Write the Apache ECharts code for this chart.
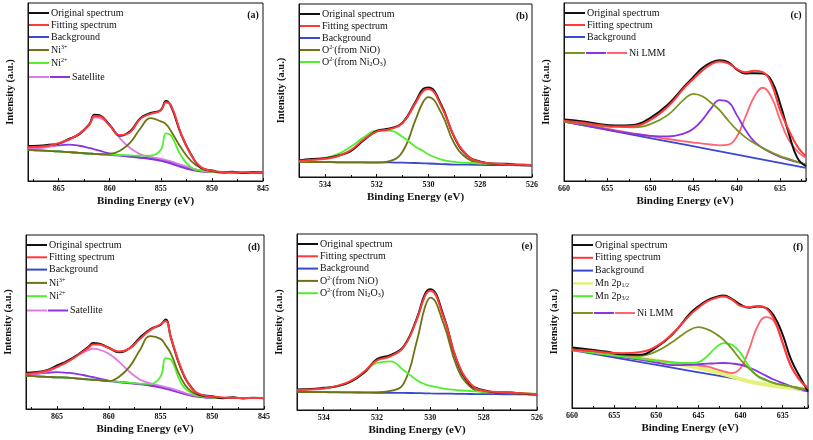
<!DOCTYPE html>
<html>
<head>
<meta charset="utf-8">
<script src="https://cdn.jsdelivr.net/npm/echarts@6/dist/echarts.min.js"></script>
<style>
  html, body { margin: 0; padding: 0; background: #fff; }
  #chart { width: 813px; height: 440px; }
</style>
</head>
<body>
<div id="chart"></div>
<script>
// ---- panel (a) / (d): Ni 2p ----
const aE = [868, 867, 866, 865, 864, 863, 862, 861.5, 861, 860, 859, 858, 857, 856, 855, 854.5, 854, 853, 852, 851, 850, 849, 848, 847, 846, 845]
const aOrig = [19.6, 19.8, 20.3, 21.0, 23.6, 26.2, 31.8, 37.2, 36.9, 31.4, 25.4, 27.9, 35.3, 38.2, 39.9, 44.9, 42.0, 26.0, 14.5, 7.2, 5.9, 4.9, 5.2, 4.5, 4.9, 4.6]
const aFit = [18.9, 19.2, 19.8, 21.3, 23.2, 26.5, 31.5, 36.5, 36.4, 31.0, 25.8, 27.4, 34.9, 37.7, 39.6, 44.3, 42.5, 26.4, 14.2, 7.5, 5.7, 5.1, 4.9, 4.8, 4.7, 4.7]
const aBg = [17.5, 17.2, 16.9, 16.6, 16.2, 15.8, 15.4, 15.2, 15.0, 14.6, 14.2, 13.8, 13.3, 12.7, 11.8, 11.2, 10.4, 8.7, 7.0, 5.8, 5.2, 4.9, 4.8, 4.7, 4.7, 4.7]
const aNi3 = [17.5, 17.2, 16.9, 16.6, 16.2, 15.8, 15.4, 15.2, 15.1, 15.2, 17.0, 21.5, 29.5, 35.3, 33.5, 32.0, 28.0, 18.5, 11.0, 7.0, 5.4, 4.9, 4.8, 4.7, 4.7, 4.7]
const aNi2 = [17.5, 17.2, 16.9, 16.6, 16.2, 15.8, 15.4, 15.2, 15.0, 14.8, 14.6, 14.4, 14.2, 14.3, 17.5, 26.8, 25.5, 14.0, 7.5, 5.8, 5.2, 4.9, 4.8, 4.7, 4.7, 4.7]
const aSatA = [17.9, 18.3, 19.2, 20.8, 23.0, 26.5, 32.0, 35.8, 35.5, 31.5, 24.0, 18.5, 15.0, 13.5, 12.5, 11.8, 11.0, 9.0, 7.3, 5.8, 5.2, 4.9, 4.8, 4.7, 4.7, 4.7]
const aSatB = [17.9, 18.6, 19.3, 20.0, 20.4, 19.8, 18.5, 17.8, 17.0, 15.5, 14.5, 13.6, 13.0, 12.3, 11.3, 10.6, 9.7, 7.8, 6.2, 5.3, 5.0, 4.8, 4.7, 4.7, 4.7, 4.7]

const dE = aE
const dOrig = [20.8, 21.2, 22.3, 25.0, 27.6, 31.2, 35.6, 37.9, 37.6, 35.2, 32.6, 34.9, 41.0, 45.8, 48.4, 51.4, 41.0, 22.8, 12.3, 7.9, 7.4, 6.2, 6.7, 6.1, 6.5, 6.2]
const dFit = [20.1, 20.8, 22.0, 24.2, 27.1, 30.9, 35.0, 37.1, 37.1, 35.0, 33.1, 34.7, 40.2, 45.3, 48.7, 50.6, 41.3, 23.3, 11.9, 8.1, 7.2, 6.6, 6.4, 6.3, 6.3, 6.3]
const dBg = [19.1, 18.8, 18.5, 18.2, 18.0, 17.5, 17.0, 16.8, 16.6, 16.1, 15.6, 15.0, 14.4, 13.6, 12.9, 12.3, 11.6, 9.5, 7.8, 6.9, 6.5, 6.4, 6.3, 6.3, 6.3, 6.3]
const dNi3 = [19.1, 18.8, 18.5, 18.2, 18.0, 17.5, 17.0, 16.8, 16.6, 16.0, 18.6, 24.2, 33.7, 41.9, 40.3, 36.6, 31.8, 17.6, 10.0, 7.6, 6.7, 6.4, 6.3, 6.3, 6.3, 6.3]
const dNi2 = [19.1, 18.8, 18.5, 18.2, 18.0, 17.5, 17.0, 16.8, 16.6, 16.1, 15.6, 15.1, 14.6, 14.4, 18.6, 29.2, 28.3, 14.8, 9.1, 7.2, 6.6, 6.4, 6.3, 6.3, 6.3, 6.3]
const dSatA = [19.5, 20.4, 21.4, 24.2, 27.1, 30.9, 33.7, 34.7, 34.3, 31.8, 27.1, 21.4, 17.0, 14.8, 13.3, 12.6, 11.9, 10.0, 8.1, 7.2, 6.7, 6.4, 6.3, 6.3, 6.3, 6.3]
const dSatB = [19.5, 20.2, 20.8, 21.2, 20.8, 20.1, 18.9, 18.3, 17.6, 16.3, 15.3, 14.8, 14.2, 13.4, 12.3, 11.6, 10.9, 9.1, 7.6, 6.8, 6.5, 6.3, 6.3, 6.3, 6.3, 6.3]

// ---- panel (b) / (e): O 1s ----
const bE = [535, 534.5, 534, 533.5, 533, 532.5, 532, 531.5, 531, 530.5, 530.2, 530, 529.5, 529, 528.5, 528, 527.5, 527, 526.5, 526]
const bOrig = [9.6, 10.4, 10.8, 12.3, 15.0, 21.2, 26.6, 28.0, 31.4, 43.5, 51.0, 51.8, 41.6, 23.0, 12.2, 8.9, 7.6, 7.6, 6.9, 6.6]
const bFit = [9.3, 9.9, 10.5, 12.0, 15.5, 21.7, 26.2, 27.6, 31.1, 42.7, 49.8, 50.9, 40.8, 23.3, 12.6, 8.7, 7.8, 7.4, 7.1, 6.8]
const bBg = [8.7, 8.6, 8.6, 8.5, 8.5, 8.5, 8.5, 8.4, 8.3, 8.1, 7.9, 7.8, 7.5, 7.2, 7.1, 7.0, 6.9, 6.9, 6.8, 6.8]
const bNiO = [8.7, 8.6, 8.6, 8.5, 8.5, 8.4, 8.3, 9.2, 14.6, 33.0, 43.5, 46.2, 36.9, 19.4, 10.7, 8.2, 7.7, 7.4, 7.2, 7.0]
const bNi2O3 = [9.1, 9.9, 10.9, 13.2, 17.5, 22.9, 26.8, 26.8, 23.3, 17.5, 15.0, 13.0, 10.1, 8.7, 8.2, 7.8, 7.6, 7.4, 7.2, 7.0]

const eE = bE
const eOrig = [11.6, 11.9, 12.6, 13.5, 16.0, 21.0, 28.9, 31.2, 36.2, 52.4, 66.0, 68.6, 53.4, 27.6, 14.5, 11.2, 10.0, 9.9, 9.2, 8.8]
const eFit = [11.3, 11.7, 12.2, 13.7, 16.4, 21.6, 28.2, 30.5, 35.7, 51.7, 64.8, 67.7, 52.6, 28.2, 15.0, 10.9, 10.2, 9.8, 9.4, 9.0]
const eBg = [10.3, 10.2, 10.1, 10.0, 10.0, 9.9, 9.8, 9.8, 9.7, 9.6, 9.5, 9.4, 9.3, 9.2, 9.1, 9.0, 9.0, 8.9, 8.9, 8.8]
const eNiO = [10.3, 10.2, 10.1, 10.1, 10.0, 10.0, 10.0, 10.8, 15.0, 39.5, 58.5, 63.9, 48.9, 24.4, 13.2, 10.3, 9.8, 9.5, 9.2, 9.0]
const eNi2O3 = [11.3, 11.7, 12.2, 13.5, 16.0, 21.0, 26.7, 27.6, 22.6, 16.9, 14.6, 13.7, 12.2, 11.3, 10.8, 10.3, 10.0, 9.8, 9.5, 9.2]

// ---- panel (c) / (f): Ni LMM (+ Mn 2p) ----
const cE = [660, 658, 656, 654, 652, 650, 648, 646, 645, 644, 643, 642, 641, 640, 639, 638, 637, 636, 635, 634, 633, 632]
const cOrig = [34.5, 33.6, 32.0, 31.2, 31.5, 35.5, 42.8, 53.5, 58.6, 63.5, 66.5, 67.8, 66.8, 62.6, 60.4, 60.6, 60.4, 56.5, 43.5, 26.9, 13.0, 8.3]
const cFit = [33.9, 32.8, 31.5, 30.6, 30.9, 34.3, 41.7, 52.8, 57.5, 62.0, 65.5, 67.2, 66.1, 63.0, 61.1, 62.0, 61.1, 54.6, 39.8, 28.7, 19.4, 13.9]
const cBgE = [660, 646, 632]
const cBg = [33.3, 20.4, 7.4]
const cLmm1 = [33.4, 32.2, 31.1, 30.5, 30.2, 32.0, 37.0, 46.3, 49.0, 47.6, 44.0, 39.8, 34.0, 28.7, 24.5, 21.3, 18.5, 16.1, 14.0, 12.4, 10.8, 9.3]
const cLmm2 = [33.4, 31.6, 29.8, 28.0, 26.5, 25.4, 25.0, 26.9, 29.5, 34.3, 40.7, 45.4, 44.4, 37.0, 28.7, 22.2, 18.5, 15.7, 13.6, 12.0, 10.6, 9.3]
const cLmm3 = [33.5, 31.9, 30.2, 28.5, 26.8, 25.2, 23.6, 22.2, 21.6, 21.0, 20.5, 20.0, 20.4, 25.0, 36.1, 47.2, 52.4, 47.2, 34.3, 23.1, 16.7, 13.0]

const fE = cE
const fOrig = [35.0, 33.8, 32.6, 31.0, 30.8, 35.0, 43.0, 54.6, 58.8, 62.0, 64.0, 65.0, 63.0, 59.8, 58.0, 58.6, 57.9, 52.9, 42.3, 27.9, 18.3, 9.6]
const fFit = [33.7, 33.1, 32.1, 31.7, 32.3, 35.6, 43.3, 53.8, 58.0, 61.5, 63.5, 64.4, 62.5, 59.0, 58.3, 59.0, 57.7, 51.0, 37.5, 24.0, 16.3, 11.5]
const fBgE = [660, 646, 632]
const fBg = [33.5, 21.5, 9.6]
const fMn1E = [660, 650.8, 645.7, 641.7, 638.1, 632]
const fMn1 = [34.6, 27.9, 24.0, 19.2, 14.4, 10.6]
const fMn3 = [33.7, 32.3, 31.0, 29.7, 28.5, 27.3, 26.2, 26.0, 26.5, 29.8, 34.6, 37.5, 36.5, 31.7, 24.0, 18.3, 16.0, 14.4, 13.4, 12.5, 11.5, 10.6]
const fLmm1 = [34.0, 33.0, 32.1, 30.8, 30.2, 32.7, 38.5, 45.2, 46.7, 45.6, 43.0, 39.4, 34.0, 27.9, 22.8, 18.7, 16.3, 14.4, 13.4, 12.5, 11.5, 10.6]
const fLmm2 = [33.7, 32.3, 30.8, 29.3, 27.9, 26.3, 24.8, 25.0, 25.3, 25.6, 25.8, 26.0, 25.7, 25.0, 23.4, 21.2, 18.7, 16.3, 14.4, 12.5, 11.0, 9.6]
const fLmm3 = [33.3, 32.2, 31.2, 30.0, 28.8, 27.5, 26.3, 25.2, 24.6, 24.0, 22.6, 21.2, 20.2, 23.1, 33.7, 47.1, 52.5, 50.0, 37.5, 24.0, 16.3, 11.5]

const BLACK = '#111111'
const RED = '#ff3838'
const BLUE = '#3a48d0'
const OLIVE = '#6f7212'
const GREEN = '#4ff02c'
const PINK = '#e27ae6'
const PURPLE = '#8a34e2'
const LMM_OLIVE = '#7a9420'
const LMM_RED = '#ff6470'
const YELLOW = '#e8f07c'
const SERIF = '"Liberation Serif", "DejaVu Serif", serif'

const pair = (xs, ys) => xs.map((x, i) => [x, ys[i]])

const grids = [
  { left: 28, top: 3, width: 235, height: 178 },
  { left: 299, top: 4, width: 233, height: 173 },
  { left: 564, top: 3, width: 242, height: 178 },
  { left: 26, top: 235, width: 238, height: 174 },
  { left: 297, top: 234, width: 240, height: 176 },
  { left: 572, top: 235, width: 236, height: 173 }
]
const xRanges = [
  { min: 845, max: 868, interval: 5 },
  { min: 526, max: 535, interval: 2 },
  { min: 632, max: 660 },
  { min: 845, max: 868, interval: 5 },
  { min: 526, max: 535, interval: 2 },
  { min: 632, max: 660 }
]

function line (gi, data, color, width) {
  return {
    type: 'line', xAxisIndex: gi, yAxisIndex: gi, data: data,
    showSymbol: false, smooth: 0.45, silent: true,
    lineStyle: { color: color, width: width || 1.8 }
  }
}

const series = [
  // (a)
  line(0, pair(aE, aBg), BLUE),
  line(0, pair(aE, aSatB), PURPLE),
  line(0, pair(aE, aSatA), PINK),
  line(0, pair(aE, aNi2), GREEN),
  line(0, pair(aE, aNi3), OLIVE),
  line(0, pair(aE, aOrig), BLACK, 2),
  line(0, pair(aE, aFit), RED, 2),
  // (b)
  line(1, pair(bE, bBg), BLUE),
  line(1, pair(bE, bNiO), OLIVE),
  line(1, pair(bE, bNi2O3), GREEN),
  line(1, pair(bE, bOrig), BLACK, 2),
  line(1, pair(bE, bFit), RED, 2),
  // (c)
  line(2, pair(cBgE, cBg), BLUE),
  line(2, pair(cE, cLmm3), LMM_RED),
  line(2, pair(cE, cLmm2), PURPLE),
  line(2, pair(cE, cLmm1), LMM_OLIVE),
  line(2, pair(cE, cOrig), BLACK, 2),
  line(2, pair(cE, cFit), RED, 2),
  // (d)
  line(3, pair(dE, dBg), BLUE),
  line(3, pair(dE, dSatB), PURPLE),
  line(3, pair(dE, dSatA), PINK),
  line(3, pair(dE, dNi2), GREEN),
  line(3, pair(dE, dNi3), OLIVE),
  line(3, pair(dE, dOrig), BLACK, 2),
  line(3, pair(dE, dFit), RED, 2),
  // (e)
  line(4, pair(eE, eBg), BLUE),
  line(4, pair(eE, eNiO), OLIVE),
  line(4, pair(eE, eNi2O3), GREEN),
  line(4, pair(eE, eOrig), BLACK, 2),
  line(4, pair(eE, eFit), RED, 2),
  // (f)
  line(5, pair(fBgE, fBg), BLUE),
  line(5, pair(fMn1E, fMn1), YELLOW, 4),
  line(5, pair(fE, fLmm3), LMM_RED),
  line(5, pair(fE, fLmm2), PURPLE),
  line(5, pair(fE, fMn3), GREEN),
  line(5, pair(fE, fLmm1), LMM_OLIVE),
  line(5, pair(fE, fOrig), BLACK, 2),
  line(5, pair(fE, fFit), RED, 2)
]

// legends (drawn by hand because some entries use several coloured segments)
const legends = [
  { tag: '(a)', rows: [
    [[BLACK], 'Original spectrum'], [[RED], 'Fitting spectrum'], [[BLUE], 'Background'],
    [[OLIVE], 'Ni{sup|3+}'], [[GREEN], 'Ni{sup|2+}'], [[PINK, PURPLE], 'Satellite']] },
  { tag: '(b)', rows: [
    [[BLACK], 'Original spectrum'], [[RED], 'Fitting spectrum'], [[BLUE], 'Background'],
    [[OLIVE], 'O{sup|2-}(from NiO)'], [[GREEN], 'O{sup|2-}(from Ni{sub|2}O{sub|3})']] },
  { tag: '(c)', rows: [
    [[BLACK], 'Original spectrum'], [[RED], 'Fitting spectrum'], [[BLUE], 'Background'],
    [[LMM_OLIVE, PURPLE, LMM_RED], 'Ni LMM']] },
  { tag: '(d)', rows: [
    [[BLACK], 'Original spectrum'], [[RED], 'Fitting spectrum'], [[BLUE], 'Background'],
    [[OLIVE], 'Ni{sup|3+}'], [[GREEN], 'Ni{sup|2+}'], [[PINK, PURPLE], 'Satellite']] },
  { tag: '(e)', rows: [
    [[BLACK], 'Original spectrum'], [[RED], 'Fitting spectrum'], [[BLUE], 'Background'],
    [[OLIVE], 'O{sup|2-}(from NiO)'], [[GREEN], 'O{sup|2-}(from Ni{sub|2}O{sub|3})']] },
  { tag: '(f)', rows: [
    [[BLACK], 'Original spectrum'], [[RED], 'Fitting spectrum'], [[BLUE], 'Background'],
    [[YELLOW], 'Mn 2p{sub|1/2}'], [[GREEN], 'Mn 2p{sub|3/2}'],
    [[LMM_OLIVE, PURPLE, LMM_RED], 'Ni LMM']] }
]
const rowGap = [12, 12, 12, 12.3, 12.3, 12.8]
const extraGap = { 'Ni{sup|3+}': 1, 'Ni{sup|2+}': 1, 'Satellite': 2, 'Ni LMM': 4 }

const rich = {
  sup: { fontSize: 6, fontFamily: SERIF, verticalAlign: 'top', padding: [0, 0, 5, 0] },
  sub: { fontSize: 6, fontFamily: SERIF, verticalAlign: 'bottom', padding: [5, 0, 0, 0] }
}

const graphic = []
legends.forEach((lg, gi) => {
  const g = grids[gi]
  let y = g.top + 10
  lg.rows.forEach(([colors, label], ri) => {
    if (ri > 0) y += rowGap[gi] + (extraGap[label] || 0)
    let x = g.left + 1
    colors.forEach((c) => {
      graphic.push({
        type: 'line', silent: true,
        shape: { x1: x, y1: y, x2: x + 20, y2: y },
        style: { stroke: c, lineWidth: c === YELLOW ? 2.5 : 2 }
      })
      x += 21
    })
    graphic.push({
      type: 'text', silent: true, x: x + 1, y: y,
      style: {
        text: label, rich: rich, fill: '#111', font: '10px ' + SERIF,
        verticalAlign: 'middle', align: 'left'
      }
    })
  })
  graphic.push({
    type: 'text', silent: true, x: g.left + g.width - 10, y: g.top + 12,
    style: {
      text: lg.tag, fill: '#111', font: 'bold 10px ' + SERIF,
      align: 'center', verticalAlign: 'middle'
    }
  })
})

const chart = echarts.init(document.getElementById('chart'), null, { renderer: 'canvas' })
chart.setOption({
  animation: false,
  backgroundColor: '#fff',
  grid: grids.map((g) => Object.assign({ show: true, borderColor: '#111', borderWidth: 1 }, g)),
  xAxis: grids.map((g, i) => Object.assign({
    gridIndex: i,
    type: 'value',
    inverse: true,
    name: 'Binding Energy (eV)',
    nameLocation: 'middle',
    nameGap: 15,
    nameTextStyle: { fontFamily: SERIF, fontWeight: 'bold', fontSize: 11, color: '#111' },
    axisLine: { lineStyle: { color: '#111', width: 1 } },
    axisTick: { inside: true, length: 3, lineStyle: { color: '#111' } },
    minorTick: { show: true, splitNumber: 2, length: 2, lineStyle: { color: '#111' } },
    splitLine: { show: false },
    axisLabel: {
      fontFamily: SERIF, fontWeight: 'bold', fontSize: 8, color: '#111', margin: 4,
      showMinLabel: xRanges[i].interval ? true : false,
      showMaxLabel: xRanges[i].interval ? false : true
    }
  }, xRanges[i])),
  yAxis: grids.map((g, i) => ({
    gridIndex: i,
    type: 'value',
    min: 0,
    max: 100,
    name: 'Intensity (a.u.)',
    nameLocation: 'middle',
    nameGap: 12,
    nameTextStyle: { fontFamily: SERIF, fontWeight: 'bold', fontSize: 10.5, color: '#111' },
    axisLine: { show: true, lineStyle: { color: '#111', width: 1 } },
    axisTick: { show: false },
    axisLabel: { show: false },
    splitLine: { show: false }
  })),
  series: series,
  graphic: graphic
})
</script>
</body>
</html>
